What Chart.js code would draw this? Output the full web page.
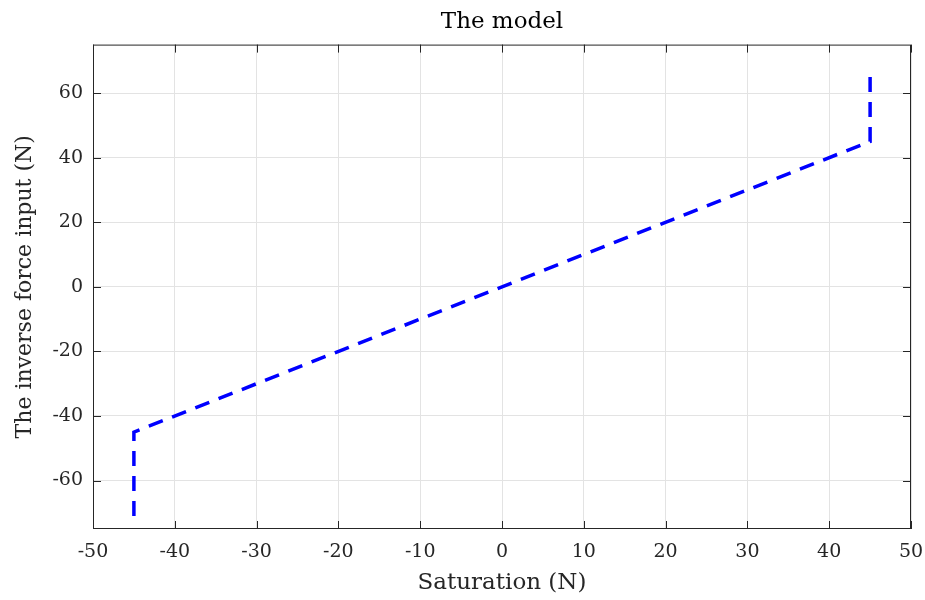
<!DOCTYPE html>
<html>
<head>
<meta charset="utf-8">
<script src="https://cdn.jsdelivr.net/npm/chart.js@4.4.1/dist/chart.umd.min.js"></script>
<style>
  html, body { margin: 0; padding: 0; background: #fff; }
  #wrap { width: 925px; height: 600px; }
</style>
</head>
<body>
<div id="wrap"><canvas id="modelChart"></canvas></div>
<script>
// data
var saturation = [-45, -45, 45, 45];
var inverseForce = [-71, -45, 45, 66];
var xTicks = [-50, -40, -30, -20, -10, 0, 10, 20, 30, 40, 50];
var yTicks = [-60, -40, -20, 0, 20, 40, 60];

var serif = "'DejaVu Serif', 'Liberation Serif', serif";
var axisColor = "#262626";

// MATLAB style box + inward ticks
var boxTicks = {
  id: "boxTicks",
  afterDatasetsDraw(chart) {
    let ctx = chart.ctx, a = chart.chartArea;
    let xs = chart.scales.x, ys = chart.scales.y;
    ctx.save();
    ctx.strokeStyle = axisColor;
    ctx.lineWidth = 1;
    ctx.strokeRect(a.left + 0.5, a.top + 0.5, a.right - a.left - 1, a.bottom - a.top - 1);
    xs.ticks.forEach((t) => {
      let px = Math.round(xs.getPixelForValue(t.value)) + 0.5;
      ctx.beginPath();
      ctx.moveTo(px, a.bottom); ctx.lineTo(px, a.bottom - 8);
      ctx.moveTo(px, a.top); ctx.lineTo(px, a.top + 8);
      ctx.stroke();
    });
    ys.ticks.forEach((t) => {
      let py = Math.round(ys.getPixelForValue(t.value)) + 0.5;
      ctx.beginPath();
      ctx.moveTo(a.left, py); ctx.lineTo(a.left + 8, py);
      ctx.moveTo(a.right, py); ctx.lineTo(a.right - 8, py);
      ctx.stroke();
    });
    ctx.restore();
  },
};

let ctx = document.getElementById("modelChart").getContext("2d");

let chart = new Chart(ctx, {
  type: "scatter",
  data: {
    datasets: [
      {
        label: "model",
        data: saturation.map((x, i) => ({ x: x, y: inverseForce[i] })),
        showLine: true,
        borderColor: "#0000ff",
        backgroundColor: "#0000ff",
        borderWidth: 3.5,
        borderDash: [15, 10],
        pointRadius: 0,
        tension: 0,
      },
    ],
  },
  options: {
    responsive: true,
    maintainAspectRatio: false,
    animation: false,
    layout: { padding: 0 },
    plugins: {
      legend: { display: false },
      tooltip: { enabled: false },
      title: {
        display: true,
        text: "The model",
        fullSize: false,
        color: "#000",
        font: { family: serif, size: 23, weight: "normal", lineHeight: 1.2 },
        padding: { top: 8, bottom: 9 },
      },
    },
    scales: {
      x: {
        type: "linear",
        min: -50,
        max: 50,
        afterBuildTicks: (s) => { s.ticks = xTicks.map((v) => ({ value: v })); },
        afterFit: (s) => { s.height = 71; s.paddingRight = 14; s.paddingLeft = 0; },
        grid: { color: "#e3e3e3", drawTicks: false },
        border: { display: false },
        ticks: {
          color: axisColor,
          font: { family: serif, size: 19 },
          padding: 12,
          maxRotation: 0,
        },
        title: {
          display: true,
          text: "Saturation (N)",
          color: axisColor,
          font: { family: serif, size: 23 },
          padding: { top: 2, bottom: 3 },
        },
      },
      y: {
        type: "linear",
        min: -75,
        max: 75,
        afterBuildTicks: (s) => { s.ticks = yTicks.map((v) => ({ value: v })); },
        afterFit: (s) => { s.width = 93; },
        grid: { color: "#e3e3e3", drawTicks: false },
        border: { display: false },
        ticks: {
          color: axisColor,
          font: { family: serif, size: 19 },
          padding: 10,
        },
        title: {
          display: true,
          text: "The inverse force input (N)",
          color: axisColor,
          font: { family: serif, size: 22 },
          padding: { top: 12, bottom: 0 },
        },
      },
    },
  },
  plugins: [boxTicks],
});
</script>
</body>
</html>
